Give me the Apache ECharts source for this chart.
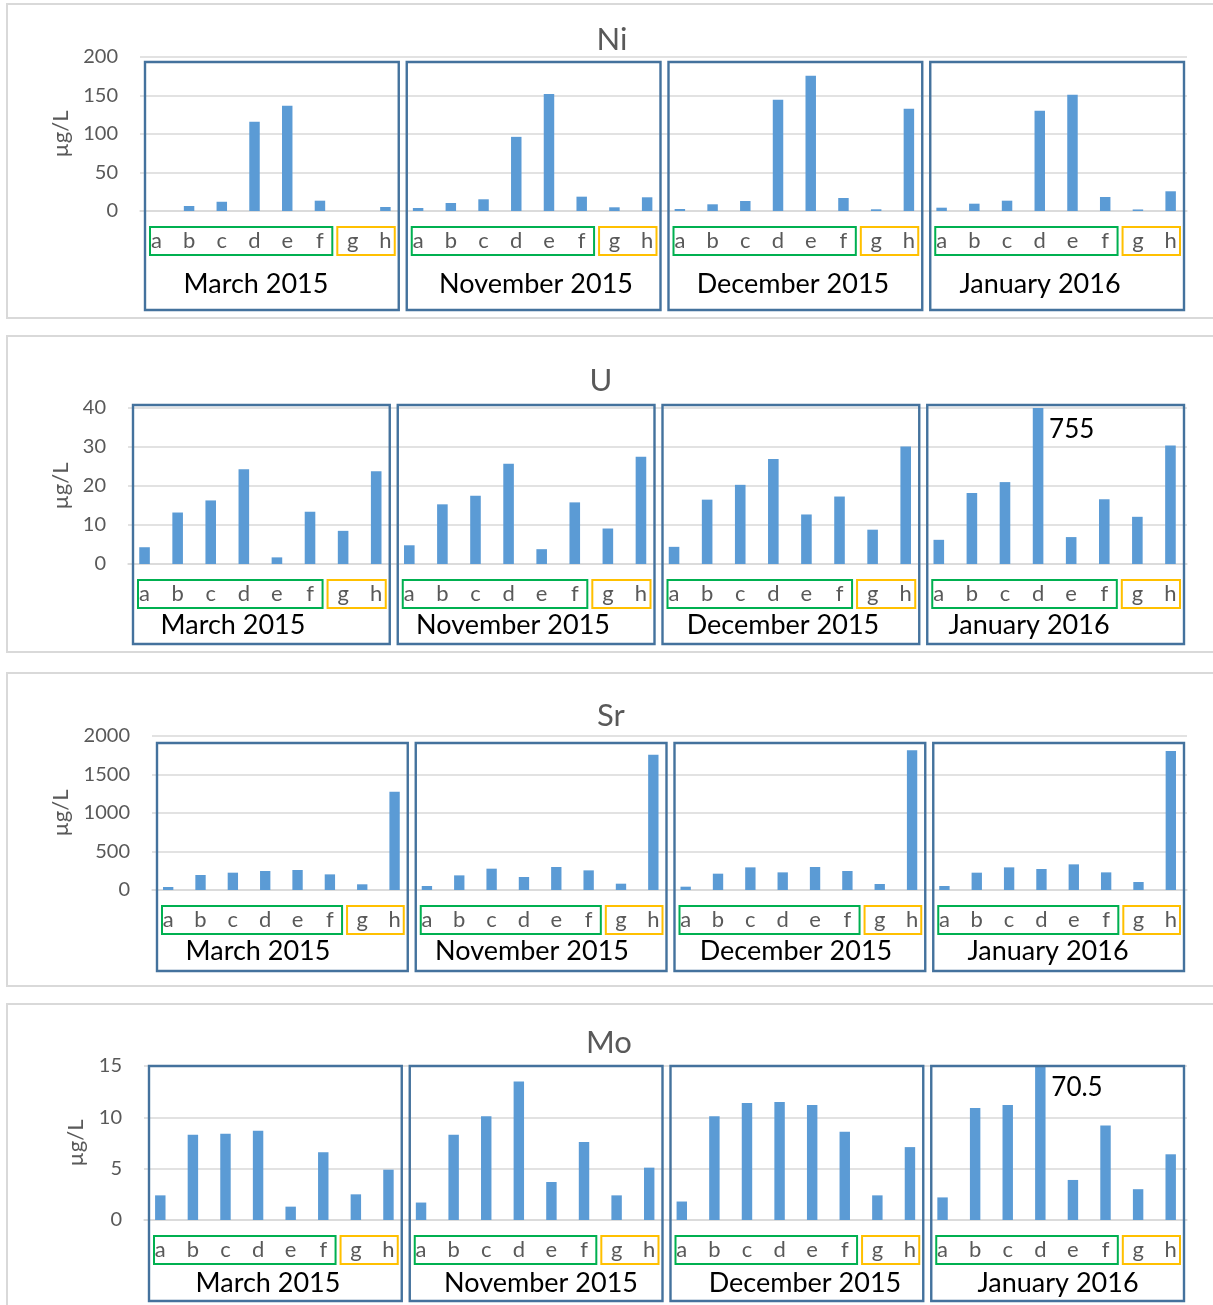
<!DOCTYPE html>
<html><head><meta charset="utf-8">
<script src="https://cdn.jsdelivr.net/npm/echarts@6/dist/echarts.min.js"></script>
<style>html,body{margin:0;padding:0;background:#fff}#c{width:1213px;height:1305px}</style>
</head><body><div id="c"></div>
<script>
// ---------- DATA ----------
const months = ['March 2015', 'November 2015', 'December 2015', 'January 2016'];
const sites = ['a', 'b', 'c', 'd', 'e', 'f', 'g', 'h'];
const elements = ['Ni', 'U', 'Sr', 'Mo'];
const unitLabel = 'µg/L';

// values per month (a..h), µg/L
const niValues = [
  [null, 6.5, 12, 115.8, 136.6, 13.4, null, 5.2],
  [3.9, 10.4, 15.2, 96.3, 151.8, 18.6, 4.8, 17.8],
  [2.6, 8.7, 13, 144.4, 175.6, 16.9, 2.2, 132.7],
  [4.3, 9.5, 13.4, 130.1, 150.9, 18.2, 2, 25.6]
];
const uValues = [
  [4.3, 13.2, 16.3, 24.3, 1.7, 13.4, 8.5, 23.8],
  [4.8, 15.3, 17.5, 25.7, 3.8, 15.8, 9.1, 27.5],
  [4.4, 16.5, 20.3, 26.9, 12.7, 17.3, 8.8, 30.1],
  [6.2, 18.2, 21, 755, 6.9, 16.6, 12.1, 30.4]
];
const srValues = [
  [39, 195, 225, 247, 260, 203, 74, 1277],
  [52, 190, 277, 169, 299, 255, 82, 1758],
  [43, 212, 294, 229, 299, 247, 78, 1814],
  [52, 225, 294, 273, 333, 229, 104, 1805]
];
const moValues = [
  [2.4, 8.3, 8.4, 8.7, 1.3, 6.6, 2.5, 4.9],
  [1.7, 8.3, 10.1, 13.5, 3.7, 7.6, 2.4, 5.1],
  [1.8, 10.1, 11.4, 11.5, 11.2, 8.6, 2.4, 7.1],
  [2.2, 10.9, 11.2, 70.5, 3.9, 9.2, 3.0, 6.4]
];
// y-axis ticks
const niTicks = [0, 50, 100, 150, 200];
const uTicks = [0, 10, 20, 30, 40];
const srTicks = [0, 500, 1000, 1500, 2000];
const moTicks = [0, 5, 10, 15];
// site groups (boxed together under the axis)
const siteGroups = [['a', 'f'], ['g', 'h']];

// ---------- LAYOUT / STYLE ----------
const allValues = [niValues, uValues, srValues, moValues];
const allTicks = [niTicks, uTicks, srTicks, moTicks];
const panels = [
  {top: 4, bottom: 318, gridLeft: 140, gridTop: 57, gridBottom: 211, titleX: 612, titleY: 40, nameGap: 68, boxTop: 62, boxBottom: 310, monthY: 284, monthX: [256, 536, 793, 1040]},
  {top: 336, bottom: 652, gridLeft: 128, gridTop: 408, gridBottom: 564, titleX: 601, titleY: 381, nameGap: 56, boxTop: 405, boxBottom: 644, monthY: 625, monthX: [233, 513, 783, 1029]},
  {top: 673, bottom: 986, gridLeft: 152, gridTop: 736, gridBottom: 890, titleX: 611, titleY: 716, nameGap: 80, boxTop: 743, boxBottom: 971, monthY: 951, monthX: [258, 532, 796, 1048]},
  {top: 1004, bottom: 1330, gridLeft: 144, gridTop: 1066, gridBottom: 1220, titleX: 609, titleY: 1043, nameGap: 57, boxTop: 1066, boxBottom: 1301, monthY: 1283, monthX: [268, 541, 805, 1058]}
];
const gridRight = 1187;
const FONT = 'Lato, "Open Sans", sans-serif';
const GRAY = '#595959';
const GRID_COLOR = '#d9d9d9';
const BAR_COLOR = '#5b9bd5';
const BOX_COLOR = '#44729d';
const GROUP_COLORS = ['#00b050', '#ffc000'];

const catName = (m, s) => months[m] + '|' + s;
const categories = [];
months.forEach((m, mi) => sites.forEach(s => categories.push(catName(mi, s))));

const chart = echarts.init(document.getElementById('c'), null, {renderer: 'canvas'});

const grids = [], xAxes = [], yAxes = [], series = [];
panels.forEach((p, i) => {
  const ticks = allTicks[i];
  const max = ticks[ticks.length - 1];
  const flat = [];
  allValues[i].forEach(arr => arr.forEach(v => flat.push(v)));
  grids.push({left: p.gridLeft, width: gridRight - p.gridLeft, top: p.gridTop, height: p.gridBottom - p.gridTop});
  xAxes.push({
    type: 'category', gridIndex: i, data: categories,
    axisTick: {show: false},
    axisLine: {lineStyle: {color: GRID_COLOR, width: 1.5}},
    axisLabel: {interval: 0, margin: 19, fontSize: 22, color: GRAY, fontFamily: FONT,
      formatter: v => v.split('|')[1]}
  });
  yAxes.push({
    type: 'value', gridIndex: i, min: ticks[0], max: max, interval: ticks[1] - ticks[0],
    axisLine: {show: false}, axisTick: {show: false},
    axisLabel: {fontSize: 20, color: GRAY, fontFamily: FONT, margin: 22, formatter: v => String(v)},
    splitLine: {lineStyle: {color: GRID_COLOR, width: 1.5}},
    name: unitLabel, nameLocation: 'middle', nameGap: p.nameGap, nameRotate: 90,
    nameTextStyle: {fontSize: 22, color: GRAY, fontFamily: FONT}
  });
  const over = [];
  flat.forEach((v, k) => {
    if (v != null && v > max) over.push({coord: [categories[k], max * 0.86], value: v});
  });
  series.push({
    type: 'bar', xAxisIndex: i, yAxisIndex: i, data: flat, clip: true,
    barCategoryGap: '68%', itemStyle: {color: BAR_COLOR}, silent: true,
    markPoint: over.length ? {
      symbol: 'circle', symbolSize: 0, silent: true,
      data: over,
      label: {show: true, position: 'right', distance: 11, color: '#000', fontSize: 26, fontFamily: FONT,
        formatter: d => String(d.value)}
    } : undefined
  });
});

chart.setOption({
  animation: false,
  backgroundColor: '#fff',
  grid: grids, xAxis: xAxes, yAxis: yAxes, series: series
});

// decorations computed from the axes
const graphics = [];
panels.forEach((p, i) => {
  graphics.push({type: 'rect', shape: {x: 7, y: p.top, width: 1240, height: p.bottom - p.top},
    style: {fill: null, stroke: GRID_COLOR, lineWidth: 2}, z: 0, silent: true});
  graphics.push({type: 'text', z: 10, silent: true, style: {
    text: elements[i], x: p.titleX, y: p.titleY, font: '31px ' + FONT, fill: GRAY,
    align: 'center', verticalAlign: 'middle', textAlign: 'center', textVerticalAlign: 'middle'}});
  const w = (gridRight - p.gridLeft) / categories.length;
  const cx = name => chart.convertToPixel({xAxisIndex: i}, name);
  const axisY = chart.convertToPixel({yAxisIndex: i}, 0);
  months.forEach((m, mi) => {
    const l = cx(catName(mi, sites[0])) - w / 2 + 5;
    const r = cx(catName(mi, sites[sites.length - 1])) + w / 2 - 3;
    graphics.push({type: 'rect', z: 10, silent: true,
      shape: {x: l, y: p.boxTop, width: r - l, height: p.boxBottom - p.boxTop},
      style: {fill: null, stroke: BOX_COLOR, lineWidth: 2.4}});
    graphics.push({type: 'text', z: 10, silent: true, style: {
      text: m, x: p.monthX[mi], y: p.monthY, font: '27px ' + FONT, fill: '#000',
      align: 'center', verticalAlign: 'middle', textAlign: 'center', textVerticalAlign: 'middle'}});
    siteGroups.forEach((g, gi) => {
      const gl = cx(catName(mi, g[0])) - w / 2 + (gi === 0 ? 10 : 1);
      const gr = cx(catName(mi, g[1])) + w / 2 - (gi === 0 ? 4 : 7);
      graphics.push({type: 'rect', z: 10, silent: true,
        shape: {x: gl, y: axisY + 16, width: gr - gl, height: 28},
        style: {fill: null, stroke: GROUP_COLORS[gi], lineWidth: 2}});
    });
  });
});
chart.setOption({graphic: {elements: graphics}});
</script>
</body></html>
